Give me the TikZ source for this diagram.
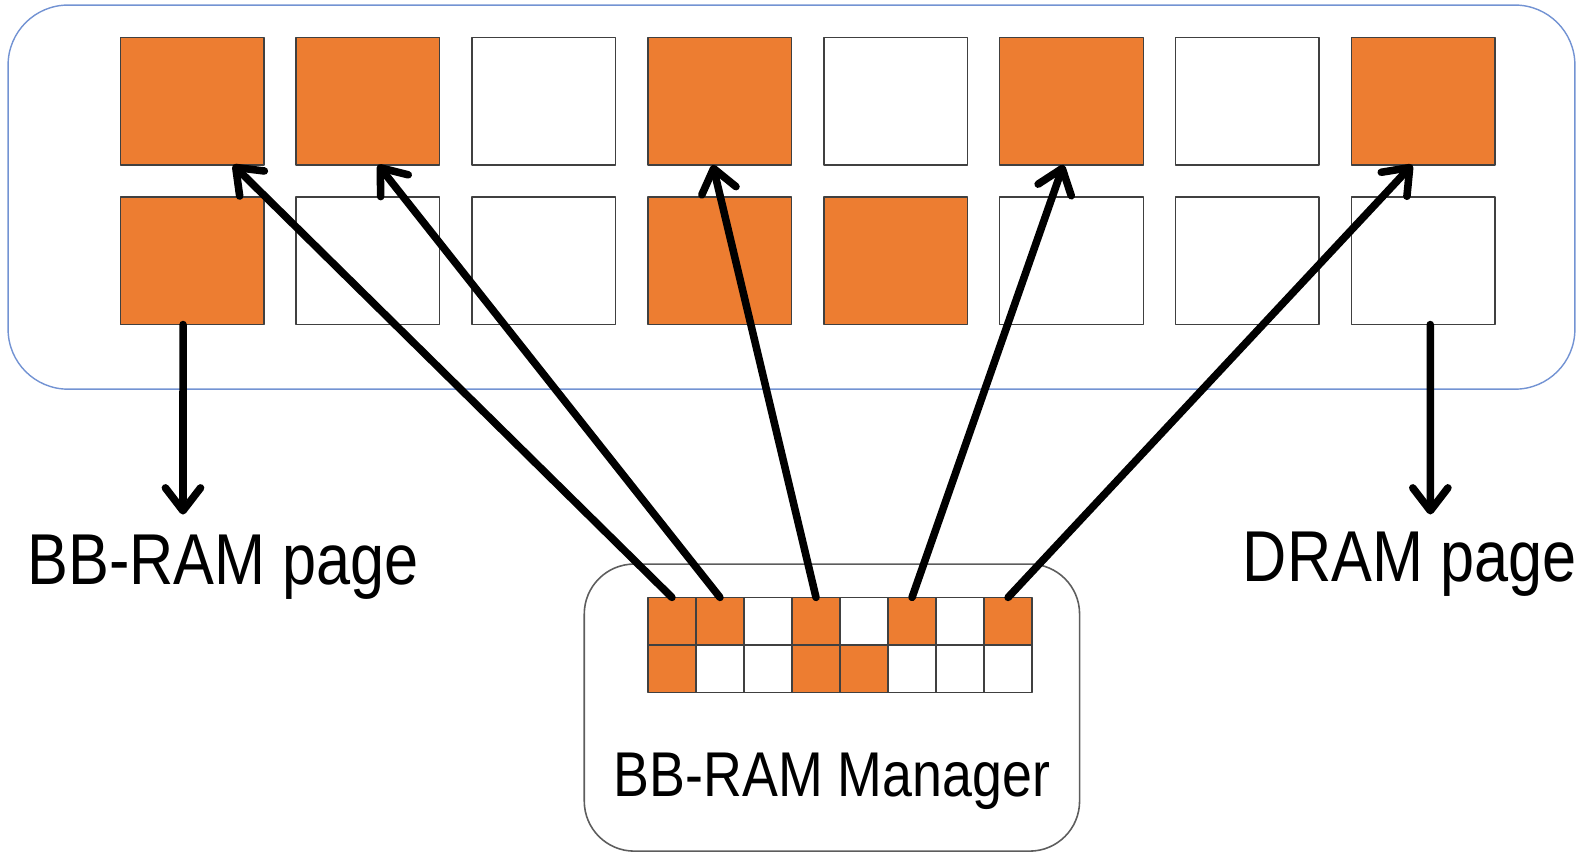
\documentclass[tikz,border=0pt]{standalone}
\usepackage{fontspec}
\setmainfont[FakeStretch=0.85]{Liberation Sans}
\usetikzlibrary{arrows.meta}
\definecolor{bbOrange}{HTML}{ED7D31}
\definecolor{frameBlue}{HTML}{7393D3}
\definecolor{cellGray}{HTML}{404040}

\begin{document}
\begin{tikzpicture}[x=0.02022cm, y=-0.02022cm, line join=round, line cap=round,
  >={Straight Barb[length=13pt,width=20pt,round]},
  big/.style={draw=cellGray, line width=0.8pt, minimum width=2.87cm, minimum height=2.55cm, inner sep=0pt, outer sep=0pt},
  small/.style={draw=cellGray, line width=0.9pt, minimum width=0.96cm, minimum height=0.95cm, inner sep=0pt, outer sep=0pt},
  ptr/.style={->, line width=4.3pt}]
\useasboundingbox (0,0) rectangle (1568,845);
% memory frame and manager box
\draw[frameBlue, line width=0.8pt, rounded corners=1.2cm] (8,5) rectangle (1558,385);
\draw[cellGray!85, line width=0.9pt, rounded corners=1cm] (578,558) rectangle (1068,845-3);
% page cells and their bitmap, 1 = BB-RAM page
\foreach \r/\bits in {1/{1,1,0,1,0,1,0,1}, 2/{1,0,0,1,1,0,0,0}}{
  \foreach \b [count=\c] in \bits {
    \ifnum\b=1 \def\cellfill{bbOrange}\else\def\cellfill{white}\fi
    \node[big, fill=\cellfill] (p-\r-\c) at ({190+174*(\c-1)}, {100+158*(\r-1)}) {};
    \node[small, fill=\cellfill] (m-\r-\c) at ({664.75+47.5*(\c-1)}, {614.5+47*(\r-1)}) {};
  }
}
% labels
\node[font=\fontsize{41}{45}\selectfont, anchor=base] (bbpage) at (221,578.5) {BB-RAM page};
\node[font=\fontsize{41}{45}\selectfont, anchor=base] (drampage) at (1394.5,575) {DRAM page};
\node[font=\fontsize{36}{40}\selectfont, anchor=base] (mgrlabel) at (823,788) {BB-RAM Manager};
% pointers from the bitmap
\draw[ptr] (m-1-1.north) -- ([xshift=0.82cm]p-1-1.south);
\draw[ptr] (m-1-2.north) -- ([xshift=0.2cm]p-1-2.south);
\draw[ptr] (m-1-4.north) -- ([xshift=-0.14cm]p-1-4.south);
\draw[ptr] (m-1-6.north) -- ([xshift=-0.16cm]p-1-6.south);
\draw[ptr] (m-1-8.north) -- ([xshift=-0.22cm]p-1-8.south);
% legend arrows
\coordinate (bbend) at (181,509);
\coordinate (dramend) at (1415,509);
\draw[ptr] ([xshift=-0.18cm]p-2-1.south) -- (bbend);
\draw[ptr] ([xshift=0.14cm]p-2-8.south) -- (dramend);
\end{tikzpicture}
\end{document}
